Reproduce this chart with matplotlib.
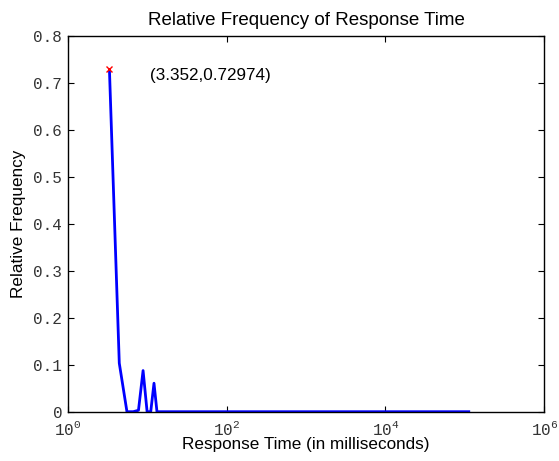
import math
import matplotlib
matplotlib.use("Agg")
import matplotlib.pyplot as plt
from matplotlib.ticker import FixedLocator, FuncFormatter, NullLocator

# Data
resp_time_ms = [3.352, 4.46, 5.57, 6.67, 7.78, 8.89, 9.99, 11.1, 12.2, 13.3, 14.4, 112000]
rel_freq = [0.72974, 0.1035, 0.0, 0.0, 0.003, 0.0877, 0.0, 0.0, 0.0607, 0.0, 0.0, 0.0]
peak_x = 3.352
peak_y = 0.72974
annot_text = "(3.352,0.72974)"
yticks = [0, 0.1, 0.2, 0.3, 0.4, 0.5, 0.6, 0.7, 0.8]
xticks = [1, 1e2, 1e4, 1e6]

plt.rcParams['mathtext.fontset'] = 'custom'
plt.rcParams['mathtext.tt'] = 'Liberation Mono'

fig = plt.figure(figsize=(5.59, 4.61), dpi=100)
W, H = 559, 461
left, right, top, bottom = 67.7, 544.3, 36.5, 411.7
ax = fig.add_axes([left / W, 1 - bottom / H, (right - left) / W, (bottom - top) / H])

ax.plot(resp_time_ms, rel_freq, color="#0000ff", linewidth=2)
ax.plot([peak_x], [peak_y], marker="x", color="red", markersize=4, markeredgewidth=1)
ax.text(10.87, 0.717, annot_text, ha="left", va="center", fontsize=12.3,
        family="Liberation Sans")

ax.set_xscale("log")
ax.set_xlim(1, 1e6)
ax.set_ylim(0, 0.8)
ax.xaxis.set_major_locator(FixedLocator(xticks))
ax.xaxis.set_minor_locator(NullLocator())
ax.set_yticks(yticks)

ax.yaxis.set_major_formatter(FuncFormatter(lambda v, p: "0" if v == 0 else f"{v:.1f}"))
ax.xaxis.set_major_formatter(FuncFormatter(lambda v, p: r"$\mathtt{10^{%d}}$" % round(math.log10(v))))

ax.tick_params(direction="in", top=True, right=True, length=4, width=0.8,
               labelsize=11.5, colors="black", labelcolor="#333333", pad=4)
ax.tick_params(axis="x", pad=6)
for lab in ax.get_yticklabels():
    lab.set_family("Liberation Mono")
for sp in ax.spines.values():
    sp.set_linewidth(1.0)

ax.set_title("Relative Frequency of Response Time", fontsize=13.5, family="Liberation Sans", pad=8)
ax.set_xlabel("Response Time (in milliseconds)", fontsize=12.3, family="Liberation Sans", labelpad=-1)
ax.set_ylabel("Relative Frequency", fontsize=12.3, family="Liberation Sans", labelpad=5)

fig.savefig("out.png", dpi=100)
